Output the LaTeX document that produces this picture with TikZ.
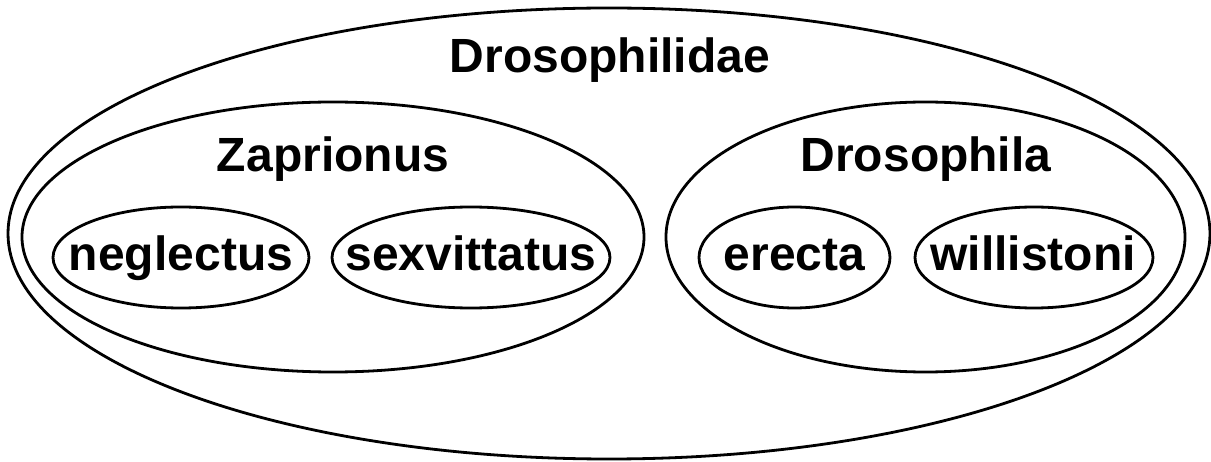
\documentclass[tikz,border=0pt]{standalone}
\usepackage{fontspec}
\setmainfont{Liberation Sans}
\usetikzlibrary{shapes.geometric}

\begin{document}
\begin{tikzpicture}[x=1pt,y=-1pt,
  clade/.style={draw, ellipse, line width=2.8pt, inner sep=0pt},
  taxon/.style={font=\fontsize{48}{52}\selectfont\bfseries, anchor=base, inner sep=0pt}]
\useasboundingbox (0,0) rectangle (1211,462);
% family
\node[clade, minimum width=1202pt, minimum height=451pt] (family) at (609,233.5) {};
\node[taxon] (familyname) at (610,73) {Drosophilidae};
% genera
\node[clade, minimum width=622pt, minimum height=270pt] (zaprionus) at (333,237) {};
\node[taxon] (zaprionusname) at (333,172) {Zaprionus};
\node[clade, minimum width=519pt, minimum height=270pt] (drosophila) at (925.5,237) {};
\node[taxon] (drosophilaname) at (926,172) {Drosophila};
% species
\node[clade, minimum width=256pt, minimum height=101pt] (neglectus) at (181,257.5) {};
\node[taxon] (neglectusname) at (181,271) {neglectus};
\node[clade, minimum width=278pt, minimum height=101pt] (sexvittatus) at (471,257.5) {};
\node[taxon] (sexvittatusname) at (471,271) {sexvittatus};
\node[clade, minimum width=191pt, minimum height=101pt] (erecta) at (794.5,257.5) {};
\node[taxon] (erectaname) at (794.5,271) {erecta};
\node[clade, minimum width=238pt, minimum height=101pt] (willistoni) at (1034,257.5) {};
\node[taxon] (willistoniname) at (1033,271) {willistoni};
\end{tikzpicture}
\end{document}
